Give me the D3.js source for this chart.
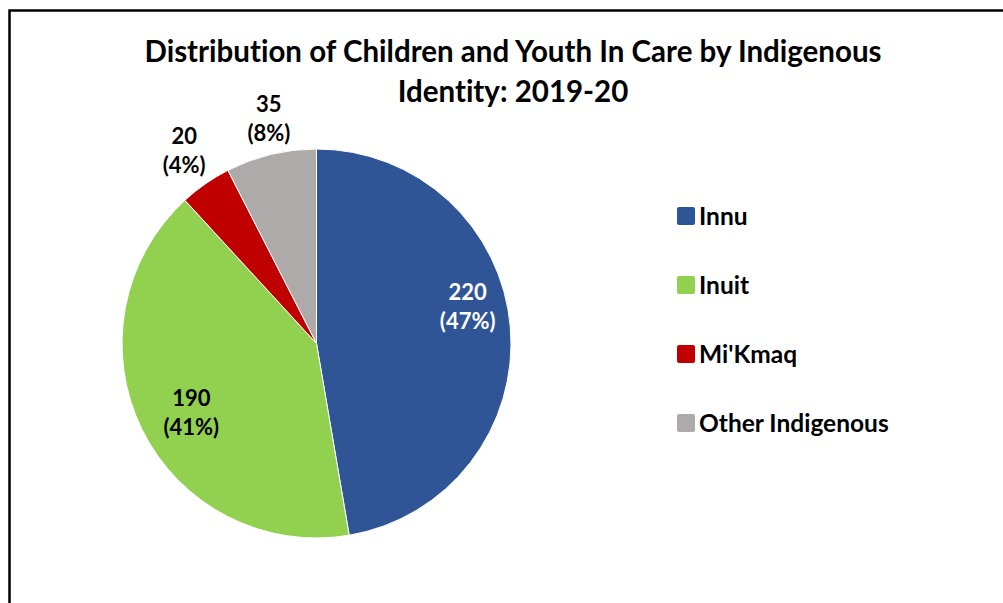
<!DOCTYPE html>
<html>
<head>
<meta charset="utf-8">
<script src="https://cdn.jsdelivr.net/npm/d3@7"></script>
<style>
  body { margin: 0; background: #fff; }
  text { font-family: Lato, "Open Sans", sans-serif; font-weight: bold; font-variant-ligatures: none; }
</style>
</head>
<body>
<div id="chart"></div>
<script>
// Data
const groups = ["Innu", "Inuit", "Mi'Kmaq", "Other Indigenous"];
const counts = [220, 190, 20, 35];
const colors = ["#2F5597", "#92D050", "#C00000", "#AEAAAA"];
const titleLines = ["Distribution of Children and Youth In Care by Indigenous", "Identity: 2019-20"];

let width = 1003;
let height = 603;

let svg = d3.select('#chart')
    .append('svg')
    .attr('width', width)
    .attr('height', height);

// chart border (runs off the right and bottom)
svg.append('rect')
    .attr('x', 9.5)
    .attr('y', 10.5)
    .attr('width', 1010)
    .attr('height', 610)
    .attr('fill', 'white')
    .attr('stroke', 'black')
    .attr('stroke-width', 2.5);

// title
svg.append('text')
    .attr('text-anchor', 'middle')
    .style('font-size', '29.5px')
    .selectAll('tspan')
    .data(titleLines)
    .enter()
    .append('tspan')
    .attr('x', 513)
    .attr('y', (d, i) => 62 + i * 40)
    .text(d => d);

const total = d3.sum(counts);
const data = groups.map((g, i) => ({ group: g, value: counts[i] }));

const color = d3.scaleOrdinal().domain(groups).range(colors);

const cx = 316.5, cy = 343.5, r = 194.5;

const pie = d3.pie().value(d => d.value).sort(null);
const arc = d3.arc().innerRadius(0).outerRadius(r);

const g = svg.append('g').attr('transform', `translate(${cx},${cy})`);

g.selectAll('path')
    .data(pie(data))
    .enter()
    .append('path')
    .attr('d', arc)
    .attr('fill', d => color(d.data.group))
    .attr('stroke', 'white')
    .attr('stroke-width', 1);

// data labels: inside for the big slices, outside for the small ones
const inner = d3.arc().innerRadius(r * 0.78).outerRadius(r * 0.78);
const outer = d3.arc().innerRadius(r * 1.2).outerRadius(r * 1.2);
const labelOffset = [[0, -25], [11, 2], [1, -2], [7, 1]];

pie(data).forEach((d, i) => {
    const small = d.data.value / total < 0.1;
    const [x, y] = small ? outer.centroid(d) : inner.centroid(d);
    const pct = Math.round(d.data.value / total * 100);
    const t = g.append('text')
        .attr('text-anchor', 'middle')
        .style('font-size', '22px')
        .attr('fill', i === 0 ? 'white' : 'black');
    t.append('tspan')
        .attr('x', x + labelOffset[i][0])
        .attr('y', y + labelOffset[i][1] - 6)
        .text(d.data.value);
    t.append('tspan')
        .attr('x', x + labelOffset[i][0])
        .attr('y', y + labelOffset[i][1] + 23)
        .text(`(${pct}%)`);
});

// legend
const legend = svg.append('g').attr('transform', 'translate(677, 207)');

groups.forEach((grp, i) => {
    legend.append('rect')
        .attr('x', 0)
        .attr('y', i * 69)
        .attr('width', 18)
        .attr('height', 18)
        .attr('rx', 2)
        .attr('fill', color(grp));

    legend.append('text')
        .attr('x', 22)
        .attr('y', i * 69 + 18)
        .style('font-size', '24.5px')
        .text(grp);
});
</script>
</body>
</html>
